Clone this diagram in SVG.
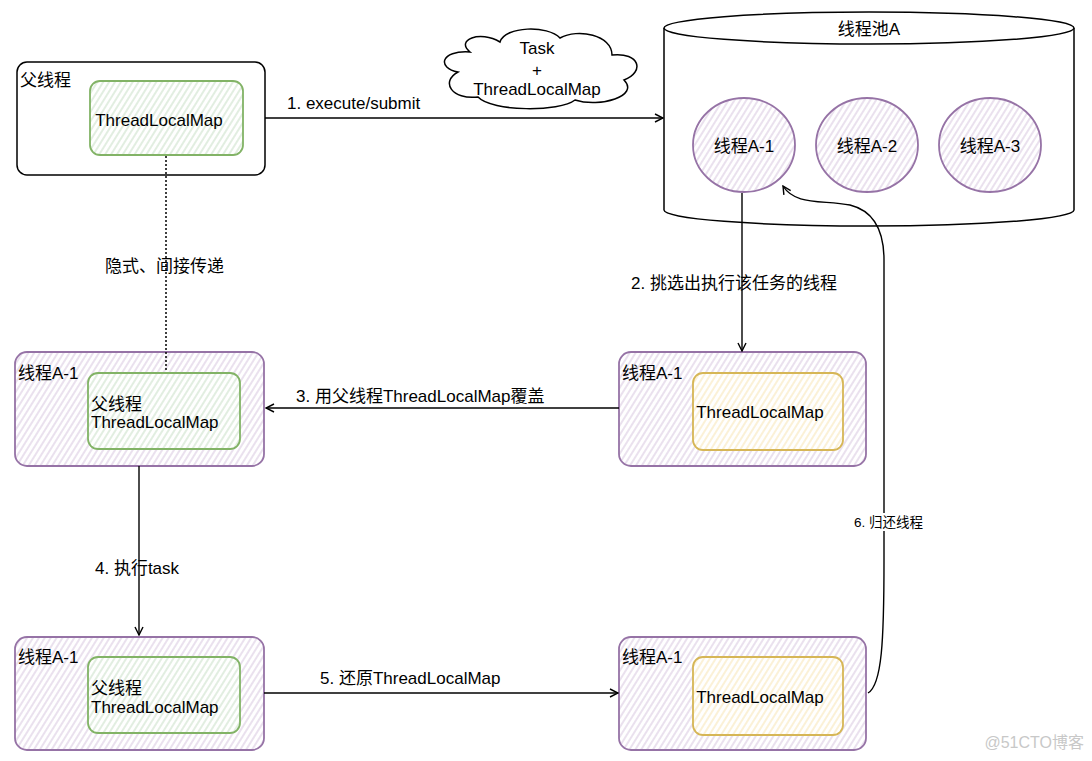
<svg xmlns="http://www.w3.org/2000/svg" width="1092" height="761" viewBox="0 0 1092 761">
<defs>
<style>
text{font-family:"Liberation Sans","Noto Sans CJK SC",sans-serif;font-size:17px;fill:#000}
.blk{fill:#fff;stroke:#000;stroke-width:1.5}
.pur{fill:url(#hp);stroke:#9673a6;stroke-width:1.8}
.grn{fill:url(#hg);stroke:#82b366;stroke-width:1.8}
.yel{fill:url(#hy);stroke:#d6b656;stroke-width:1.8}
.edge{fill:none;stroke:#000;stroke-width:1.4}
</style>
<pattern id="hp" width="5" height="5" patternUnits="userSpaceOnUse" patternTransform="rotate(32)">
<rect width="5" height="5" fill="#fff"/><line x1="1" y1="0" x2="1" y2="5" stroke="#dccde4" stroke-width="1.2"/></pattern>
<pattern id="hg" width="5" height="5" patternUnits="userSpaceOnUse" patternTransform="rotate(32)">
<rect width="5" height="5" fill="#fff"/><line x1="1" y1="0" x2="1" y2="5" stroke="#cfe3cd" stroke-width="1.2"/></pattern>
<pattern id="hy" width="5" height="5" patternUnits="userSpaceOnUse" patternTransform="rotate(32)">
<rect width="5" height="5" fill="#fff"/><line x1="1" y1="0" x2="1" y2="5" stroke="#f9e9bd" stroke-width="1.2"/></pattern>
<marker id="ar" viewBox="0 0 10 10" refX="9" refY="5" markerWidth="10" markerHeight="10" markerUnits="userSpaceOnUse" orient="auto">
<path d="M1,1 L9,5 L1,9" fill="none" stroke="#000" stroke-width="1.4"/></marker>
</defs>

<g id="parent">
<rect class="blk" x="17" y="62" width="248" height="113" rx="10"/>
<text x="20" y="86">父线程</text>
<rect class="grn" x="90" y="81" width="153" height="74" rx="10"/>
<text x="159" y="126" text-anchor="middle">ThreadLocalMap</text>
</g>

<g id="cloud">
<path d="M470,52 C440,50 437,68 458,72 C440,82 452,100 478,97 C492,112 560,112 575,100 C600,108 640,96 624,80 C645,72 640,52 612,55 C612,35 578,28 560,38 C548,25 505,26 500,42 C480,30 455,40 470,52 Z" fill="#fff" stroke="#000" stroke-width="1.5"/>
<text x="537" y="54" text-anchor="middle">Task</text>
<text x="537" y="76" text-anchor="middle">+</text>
<text x="537" y="95" text-anchor="middle">ThreadLocalMap</text>
</g>

<g id="pool">
<path d="M664,28 L664,210 A205,16 0 0 0 1074,210 L1074,28" fill="#fff" stroke="#000" stroke-width="1.5"/>
<ellipse cx="869" cy="28" rx="205" ry="16" fill="#fff" stroke="#000" stroke-width="1.5"/>
<text x="869" y="35" text-anchor="middle">线程池A</text>
</g>

<g id="a1">
<ellipse class="pur" cx="744" cy="145" rx="51" ry="47"/>
<text x="744" y="152" text-anchor="middle">线程A-1</text>
</g>
<g id="a2">
<ellipse class="pur" cx="867" cy="145" rx="51" ry="47"/>
<text x="867" y="152" text-anchor="middle">线程A-2</text>
</g>
<g id="a3">
<ellipse class="pur" cx="990" cy="145" rx="51" ry="47"/>
<text x="990" y="152" text-anchor="middle">线程A-3</text>
</g>

<g id="midright">
<rect class="pur" x="619" y="352" width="247" height="114" rx="12"/>
<text x="622" y="379">线程A-1</text>
<rect class="yel" x="693" y="373" width="150" height="77" rx="10"/>
<text x="760" y="418" text-anchor="middle">ThreadLocalMap</text>
</g>

<g id="midleft">
<rect class="pur" x="15" y="352" width="249" height="114" rx="12"/>
<text x="18" y="379">线程A-1</text>
<rect class="grn" x="88" y="373" width="152" height="76" rx="10"/>
<text x="91" y="410">父线程</text>
<text x="91" y="428">ThreadLocalMap</text>
</g>

<g id="botleft">
<rect class="pur" x="15" y="637" width="249" height="113" rx="12"/>
<text x="18" y="663">线程A-1</text>
<rect class="grn" x="88" y="657" width="152" height="76" rx="10"/>
<text x="91" y="694">父线程</text>
<text x="91" y="713">ThreadLocalMap</text>
</g>

<g id="botright">
<rect class="pur" x="619" y="637" width="247" height="113" rx="12"/>
<text x="622" y="663">线程A-1</text>
<rect class="yel" x="693" y="657" width="150" height="78" rx="10"/>
<text x="760" y="703" text-anchor="middle">ThreadLocalMap</text>
</g>

<g id="edges">
<path class="edge" d="M265,118 L663,118" marker-end="url(#ar)"/>
<path class="edge" d="M742,193 L742,351" marker-end="url(#ar)"/>
<path class="edge" d="M619,408 L266,408" marker-end="url(#ar)"/>
<path class="edge" d="M139,466 L139,635" marker-end="url(#ar)"/>
<path class="edge" d="M264,693 L618,693" marker-end="url(#ar)"/>
<path class="edge" d="M868,693 C882,685 884,640 884,560 L884,260 C884,225 870,210 850,205 C820,200 795,205 783,186" marker-end="url(#ar)"/>
<path d="M166,156 L166,372" fill="none" stroke="#000" stroke-width="1.5" stroke-dasharray="2 2"/>
</g>

<g id="labels">
<text x="287" y="109">1. execute/submit</text>
<text x="631" y="289">2. 挑选出执行该任务的线程</text>
<text x="296" y="402">3. 用父线程ThreadLocalMap覆盖</text>
<text x="95" y="574">4. 执行task</text>
<text x="320" y="684">5. 还原ThreadLocalMap</text>
<text x="105" y="272">隐式、间接传递</text>
<rect x="853" y="513" width="73" height="18" fill="#fff"/>
<text x="854" y="527" style="font-size:13.5px">6. 归还线程</text>
</g>

<text x="1084" y="748" text-anchor="end" style="fill:#c8c8c8;font-size:16px">@51CTO博客</text>
</svg>
